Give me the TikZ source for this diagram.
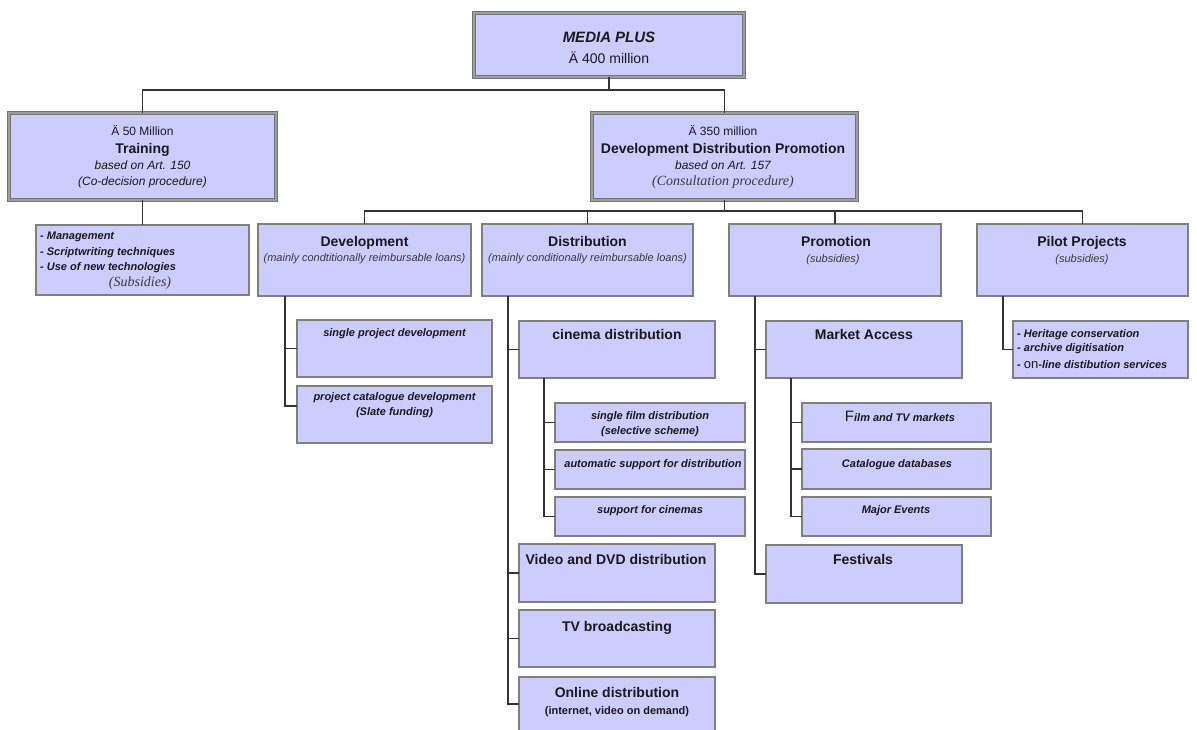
\documentclass[tikz,border=0pt]{standalone}
\usepackage{fontspec}
\setmainfont{Liberation Sans}
\newfontfamily\tms{Liberation Serif}
\usetikzlibrary{calc}
\definecolor{boxfill}{HTML}{CCCCFF}
\definecolor{boxline}{HTML}{7F7F7F}
\definecolor{conn}{HTML}{333333}
\definecolor{txt}{HTML}{1A1A1A}
\definecolor{subtxt}{HTML}{3A3A3A}
\newcommand{\bx}[6][]{\node[box,#1,minimum width={(#5-#3)*1pt},minimum height={(#6-#4)*1pt}] (#2) at (#3,#4) {};}
\tikzset{
  box/.style={draw=boxline, fill=boxfill, line width=1.1pt, anchor=north west, inner sep=0pt, outer sep=0pt},
  frame/.style={draw=black!55, line width=0.9pt, double=black!38, double distance=2.2pt},
  conn/.style={draw=conn, line width=1.1pt},
  t/.style={anchor=base, inner sep=0pt, text=txt},
  tl/.style={anchor=base west, inner sep=0pt, text=txt},
  fMP/.style={font=\fontsize{15}{18}\selectfont\bfseries\itshape},
  fL/.style={font=\fontsize{14}{17}\selectfont},
  fB/.style={font=\fontsize{14}{17}\selectfont\bfseries},
  fS/.style={font=\fontsize{12}{14}\selectfont},
  fSI/.style={font=\fontsize{12}{14}\selectfont\itshape},
  fTI/.style={font=\tms\fontsize{14}{16}\selectfont\itshape, text=subtxt},
  fSub/.style={font=\fontsize{11}{13}\selectfont\itshape, text=subtxt},
  fBI/.style={font=\fontsize{11}{13}\selectfont\bfseries\itshape},
  fBs/.style={font=\fontsize{11}{13}\selectfont\bfseries},
}
\begin{document}
\begin{tikzpicture}[x=1pt,y=-1pt]
\useasboundingbox (0,0) rectangle (1197,729);
% boxes
\bx[frame]{top}{474}{13}{744}{77}
\bx[frame]{train}{9}{113}{276}{200}
\bx[frame]{ddp}{592}{113}{857}{200}
\bx{subs}{36}{225}{249}{295}
\bx{dev}{258}{224}{471}{296}
\bx{dist}{482}{224}{693}{296}
\bx{prom}{729}{224}{941}{296}
\bx{pilot}{977}{224}{1188}{296}
\bx{spd}{297}{320}{492}{377}
\bx{pcd}{297}{386}{492}{443}
\bx{cin}{519}{321}{715}{378}
\bx{sfd}{555}{403}{745}{442}
\bx{asd}{555}{450}{745}{489}
\bx{sfc}{555}{497}{745}{536}
\bx{vdvd}{519}{544}{715}{602}
\bx{tv}{519}{610}{715}{667}
\bx{online}{519}{677}{715}{731}
\bx{ma}{766}{321}{962}{378}
\bx{ftv}{802}{403}{991}{442}
\bx{cdb}{802}{449}{991}{489}
\bx{mev}{802}{497}{991}{536}
\bx{fest}{766}{545}{962}{603}
\bx{plist}{1013}{321}{1188}{378}
% connectors
\draw[conn] (top.south) -- ++(0,13) -| (train.north);
\draw[conn] (top.south) -- ++(0,13) -| (ddp.north);
\draw[conn] (train.south) -- (subs.north);
\foreach \b in {dev,dist,prom,pilot}{\draw[conn] (ddp.south) -- ++(0,11) -| (\b.north);}
\coordinate (devx) at ($(dev.south west)+(27,0)$);
\coordinate (pcdb) at ($(pcd.north west)+(0,20)$);
\draw[conn] (devx) |- (spd.west);
\draw[conn] (devx) |- (pcdb);
\coordinate (distx) at ($(dist.south west)+(26,0)$);
\foreach \b in {cin,vdvd,tv,online}{\draw[conn] (distx) |- (\b.west);}
\coordinate (cinx) at ($(cin.south west)+(25,0)$);
\foreach \b in {sfd,asd,sfc}{\draw[conn] (cinx) |- (\b.west);}
\coordinate (promx) at ($(prom.south west)+(26,0)$);
\foreach \b in {ma,fest}{\draw[conn] (promx) |- (\b.west);}
\coordinate (max) at ($(ma.south west)+(25,0)$);
\foreach \b in {ftv,cdb,mev}{\draw[conn] (max) |- (\b.west);}
\coordinate (pilotx) at ($(pilot.south west)+(26,0)$);
\draw[conn] (pilotx) |- (plist.west);
% texts
\node[t,fMP] (topa) at (609,42) {MEDIA PLUS};
\node[t,fL] (topb) at (609,63) {Ä 400 million};
\node[t,fS] (traina) at (142.5,135) {Ä 50 Million};
\node[t,fB] (trainb) at (142.5,153) {Training};
\node[t,fSI] (trainc) at (142.5,169) {based on Art. 150};
\node[t,fSI] (traind) at (142.5,185) {(Co-decision procedure)};
\node[t,fS] (ddpa) at (723,135) {Ä 350 million};
\node[t,fB] (ddpb) at (723,153) {Development Distribution Promotion};
\node[t,fSI] (ddpc) at (723,169) {based on Art. 157};
\node[t,fTI] (ddpd) at (723,185) {(Consultation procedure)};
\node[tl,fBI] (subsa) at (40,239) {- Management};
\node[tl,fBI] (subsb) at (40,255) {- Scriptwriting techniques};
\node[tl,fBI] (subsc) at (40,270) {- Use of new technologies};
\node[t,fTI] (subsd) at (140,286) {(Subsidies)};
\node[t,fB] (deva) at (364.5,246) {Development};
\node[t,fSub] (devb) at (364.5,261) {(mainly condtitionally reimbursable loans)};
\node[t,fB] (dista) at (587.5,246) {Distribution};
\node[t,fSub] (distb) at (587.5,261) {(mainly conditionally reimbursable loans)};
\node[t,fB] (proma) at (836,246) {Promotion};
\node[t,fSub] (promb) at (833,262) {(subsidies)};
\node[t,fB] (pilota) at (1082,246) {Pilot Projects};
\node[t,fSub] (pilotb) at (1082,262) {(subsidies)};
\node[tl,fBI] (plista) at (1017,337) {- Heritage conservation};
\node[tl,fBI] (plistb) at (1017,351) {- archive digitisation};
\node[tl,fBI] (plistc) at (1017,368) {- {\fontsize{13}{15}\selectfont\upshape\mdseries on}-line distibution services};
\node[t,fBI] (spda) at (394.5,336) {single project development};
\node[t,fBI] (pcda) at (394.5,400) {project catalogue development};
\node[t,fBI] (pcdb2) at (394.5,415) {(Slate funding)};
\node[t,fB] (cina) at (617,339) {cinema distribution};
\node[t,fBI] (sfda) at (650,419) {single film distribution};
\node[t,fBI] (sfdb) at (650,434) {(selective scheme)};
\node[t,fBI] (asda) at (653,467) {automatic support for distribution};
\node[t,fBI] (sfca) at (650,513) {support for cinemas};
\node[t,fB] (vdvda) at (616,564) {Video and DVD distribution};
\node[t,fB] (tva) at (617,631) {TV broadcasting};
\node[t,fB] (onlinea) at (617,697) {Online distribution};
\node[t,fBs] (onlineb) at (617,714) {(internet, video on demand)};
\node[t,fB] (maa) at (864,339) {Market Access};
\node[t,fBI] (ftva) at (900,421) {{\fontsize{15}{17}\selectfont\upshape\mdseries F}ilm and TV markets};
\node[t,fBI] (cdba) at (897,467) {Catalogue databases};
\node[t,fBI] (meva) at (896,513) {Major Events};
\node[t,fB] (festa) at (863,564) {Festivals};
\end{tikzpicture}
\end{document}
